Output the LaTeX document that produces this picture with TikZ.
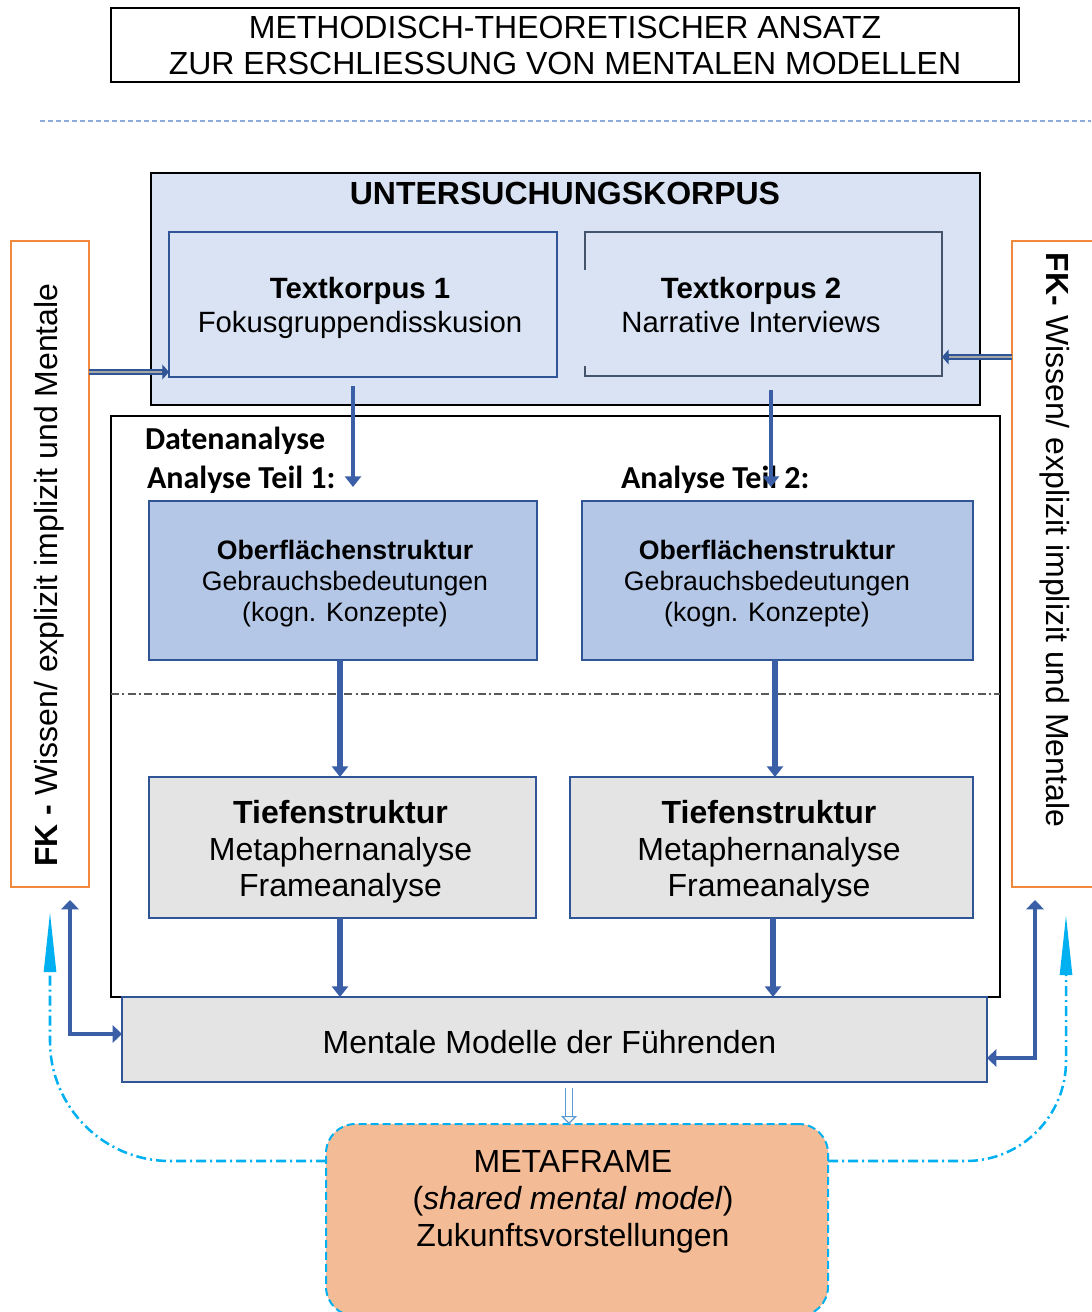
\documentclass[tikz,border=0pt]{standalone}
\usepackage{fontspec}
\setmainfont{Liberation Sans}
\newfontfamily\calibfont{Carlito}
\usetikzlibrary{arrows.meta,calc}

\definecolor{dkblue}{HTML}{2F5597}
\definecolor{arrblue}{HTML}{3A5FA6}
\definecolor{paleblue}{HTML}{DAE3F3}
\definecolor{midblue}{HTML}{B4C7E7}
\definecolor{boxgray}{HTML}{E4E4E4}
\definecolor{slate}{HTML}{44546A}
\definecolor{fkorange}{HTML}{F0883E}
\definecolor{peach}{HTML}{F4BC96}
\definecolor{skyline}{HTML}{00B0F0}
\definecolor{sepblue}{HTML}{8FAADC}
\definecolor{hollowblue}{HTML}{5B9BD5}
\definecolor{innergray}{HTML}{A6A6A6}

\newcommand\fsz[2]{\fontsize{#1}{#2}\selectfont}

\begin{document}
\begin{tikzpicture}[x=0.75pt,y=-0.75pt,
  every node/.style={inner sep=0pt, outer sep=0pt, align=center},
  titlebox/.style={draw=black, line width=1.5pt, fill=white, font=\fsz{24pt}{27pt}},
  korpusbox/.style={draw=black, line width=1.5pt, fill=paleblue},
  tkbox/.style={draw=dkblue, line width=1.5pt, fill=paleblue},
  tktext/.style={font=\fsz{22pt}{25.5pt}},
  datbox/.style={draw=black, line width=1.5pt, fill=white},
  obbox/.style={draw=dkblue, line width=1.5pt, fill=midblue},
  obtext/.style={font=\fsz{20pt}{23.25pt}},
  tfbox/.style={draw=dkblue, line width=1.5pt, fill=boxgray},
  tftext/.style={font=\fsz{24pt}{27.4pt}},
  fkbox/.style={draw=fkorange, line width=1.5pt, fill=white},
  fktext/.style={font=\fsz{24pt}{27pt}},
  metabox/.style={draw=skyline, line width=1.5pt, fill=peach, dash pattern=on 6pt off 3pt, rounded corners=22pt},
  sectlabel/.style={font=\calibfont\bfseries\fsz{24pt}{27pt}},
  feedouter/.style={draw=dkblue, line width=4.5pt, -{Triangle[length=5pt,width=11pt]}},
  feedinner/.style={draw=innergray, line width=1.5pt, shorten >=5pt},
  downarrow/.style={draw=arrblue, line width=4pt, -{Triangle[length=8pt,width=12pt]}},
  elbowarrow/.style={draw=arrblue, line width=2.6pt, {Triangle[length=7pt,width=13pt]}-{Triangle[length=7pt,width=13pt]}},
  hollowarrow/.style={draw=hollowblue, line width=0.9pt, double=white, double distance=3.8pt, -{Triangle[open,length=6pt,width=12pt]}},
  feedback/.style={draw=skyline, line width=1.9pt, dash pattern=on 7.5pt off 3pt on 1.5pt off 3pt, -{Triangle[length=45pt,width=9pt]}},
]
\useasboundingbox (0,0) rectangle (1091,1312);

% heading
\node[titlebox, minimum width=681pt, minimum height=55.5pt] (title) at (565,45)
  {METHODISCH-THEORETISCHER ANSATZ\\ZUR ERSCHLIESSUNG VON MENTALEN MODELLEN};
\draw[sepblue, line width=0.9pt, dash pattern=on 3.5pt off 2.5pt] (40,121) -- (1091,121);

% side frames: knowledge of the leaders
\node[fkbox, minimum width=58.5pt, minimum height=484.5pt] (fkL) at (50,564) {};
\node[fktext, rotate=90] (fkLtext) at (49,575) {\textbf{FK -} Wissen/ explizit implizit und Mentale};
\node[fkbox, minimum width=63pt, minimum height=484.5pt] (fkR) at (1054,564) {};
\node[fktext, rotate=-90] (fkRtext) at (1055,540) {\textbf{FK-} Wissen/ explizit implizit und Mentale};

% corpus
\node[korpusbox, minimum width=621.75pt, minimum height=174pt] (korpus) at (565.5,289) {};
\node[font=\bfseries\fsz{24pt}{27pt}] (korpustitle) at (565,193) {UNTERSUCHUNGSKORPUS};
\node[tkbox, minimum width=291pt, minimum height=108.75pt] (tk1) at (363,304.5) {};
\node[tktext] (tk1text) at (360,308) {\textbf{Textkorpus 1}\\Fokusgruppendisskusion};
\node[minimum width=267.75pt, minimum height=108pt] (tk2) at (763.5,304) {};
\draw[slate, line width=1.5pt] (tk2.west |- 0,270) -- (tk2.north west) -- (tk2.north east)
  -- (tk2.south east) -- (tk2.south west) -- (tk2.west |- 0,366);
\node[tktext] (tk2text) at (751,305) {\textbf{Textkorpus 2}\\Narrative Interviews};

% data analysis
\node[datbox, minimum width=666.75pt, minimum height=435.75pt] (dat) at (555.5,706.5) {};
\node[sectlabel, anchor=base west] (datlbl) at (145,449) {Datenanalyse};
\node[sectlabel, anchor=base west] (part1) at (147,488) {Analyse Teil 1:};
\node[sectlabel, anchor=base west] (part2) at (621,488) {Analyse Teil 2:};

\node[obbox, minimum width=291pt, minimum height=119.25pt] (ob1) at (343,580.5) {};
\node[obtext] (ob1text) at (345,584) {\textbf{Oberflächenstruktur}\\Gebrauchsbedeutungen\\(kogn. Konzepte)};
\node[obbox, minimum width=293.25pt, minimum height=119.25pt] (ob2) at (777.5,580.5) {};
\node[obtext] (ob2text) at (767,584) {\textbf{Oberflächenstruktur}\\Gebrauchsbedeutungen\\(kogn. Konzepte)};

\draw[draw=black!65, line width=1pt, dash pattern=on 6pt off 2.5pt on 1.5pt off 2.5pt]
  (dat.west |- 0,694) -- (dat.east |- 0,694);

\node[tfbox, minimum width=290.25pt, minimum height=105.75pt] (tf1) at (342.5,847.5) {};
\node[tftext] (tf1text) at (340.5,852) {\textbf{Tiefenstruktur}\\Metaphernanalyse\\Frameanalyse};
\node[tfbox, minimum width=302.25pt, minimum height=105.75pt] (tf2) at (771.5,847.5) {};
\node[tftext] (tf2text) at (769,852) {\textbf{Tiefenstruktur}\\Metaphernanalyse\\Frameanalyse};

% mental models
\node[tfbox, minimum width=648.75pt, minimum height=63.75pt] (mm) at (554.5,1039.5) {};
\node[tftext] (mmtext) at (549.5,1042) {Mentale Modelle der Führenden};

% metaframe
\node[metabox, minimum width=376.5pt, minimum height=144pt] (meta) at (577,1220) {};
\node[font=\fsz{24pt}{27.75pt}] (metatext) at (573,1202)
  {METAFRAME\\(\textit{shared mental model})\\Zukunftsvorstellungen};

% connectors
\coordinate (tip1) at (353,487);
\coordinate (tip2) at (771,487);

\draw[feedouter] (fkL.east |- 0,372) -- (tk1.west |- 0,372);
\draw[feedinner] (fkL.east |- 0,372) -- (tk1.west |- 0,372);
\draw[feedouter] (fkR.west |- 0,357) -- (tk2.east |- 0,357);
\draw[feedinner] (fkR.west |- 0,357) -- (tk2.east |- 0,357);

\draw[downarrow, line width=3.2pt] ($(tk1.south -| 353,0)+(0,9)$) -- (tip1);
\draw[downarrow, line width=3.2pt] ($(tk2.south -| 771,0)+(0,14)$) -- (tip2);

\draw[downarrow] (ob1.south -| 340,0) -- (tf1.north -| 340,0);
\draw[downarrow] (ob2.south -| 775,0) -- (tf2.north -| 775,0);
\draw[downarrow] (tf1.south -| 340,0) -- (mm.north -| 340,0);
\draw[downarrow] (tf2.south -| 773,0) -- (mm.north -| 773,0);

\draw[elbowarrow] ($(fkL.south -| 70,0)+(0,13)$) |- (mm.west |- 0,1034);
\draw[elbowarrow] ($(fkR.south -| 1035,0)+(0,13)$) |- (mm.east |- 0,1058);

\draw[hollowarrow] ($(mm.south -| 569,0)+(0,6)$) -- (meta.north -| 569,0);

\draw[feedback, rounded corners=90pt] (meta.west |- 0,1161) -| ($(fkL.south -| 50,0)+(0,25)$);
\draw[feedback, rounded corners=75pt] (meta.east |- 0,1161) -| ($(fkR.south -| 1066,0)+(0,28)$);
\end{tikzpicture}
\end{document}
